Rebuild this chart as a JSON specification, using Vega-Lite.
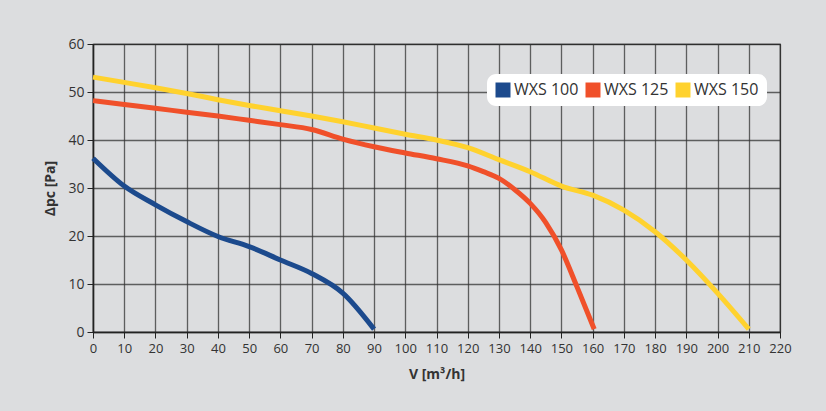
{
  "$schema": "https://vega.github.io/schema/vega-lite/v6.json",
  "width": 687,
  "height": 288,
  "autosize": {"type": "none"},
  "padding": {"left": 93, "top": 44, "right": 46, "bottom": 79},
  "background": "#dcdddf",
  "config": {
    "font": "Open Sans",
    "view": {"stroke": "#222", "strokeWidth": 1.2, "fill": "#dcdddf"}
  },
  "data": {
    "values": [
      {"V": 0, "p": 36.2, "s": "WXS 100"},
      {"V": 10, "p": 30.4, "s": "WXS 100"},
      {"V": 20, "p": 26.5, "s": "WXS 100"},
      {"V": 30, "p": 23.0, "s": "WXS 100"},
      {"V": 40, "p": 19.9, "s": "WXS 100"},
      {"V": 50, "p": 17.8, "s": "WXS 100"},
      {"V": 60, "p": 15.0, "s": "WXS 100"},
      {"V": 70, "p": 12.2, "s": "WXS 100"},
      {"V": 80, "p": 8.1, "s": "WXS 100"},
      {"V": 90, "p": 0.6, "s": "WXS 100"},
      {"V": 0, "p": 48.2, "s": "WXS 125"},
      {"V": 10, "p": 47.4, "s": "WXS 125"},
      {"V": 20, "p": 46.6, "s": "WXS 125"},
      {"V": 30, "p": 45.8, "s": "WXS 125"},
      {"V": 40, "p": 45.0, "s": "WXS 125"},
      {"V": 50, "p": 44.1, "s": "WXS 125"},
      {"V": 60, "p": 43.2, "s": "WXS 125"},
      {"V": 70, "p": 42.2, "s": "WXS 125"},
      {"V": 80, "p": 40.2, "s": "WXS 125"},
      {"V": 90, "p": 38.6, "s": "WXS 125"},
      {"V": 100, "p": 37.3, "s": "WXS 125"},
      {"V": 110, "p": 36.1, "s": "WXS 125"},
      {"V": 120, "p": 34.6, "s": "WXS 125"},
      {"V": 125, "p": 33.4, "s": "WXS 125"},
      {"V": 130, "p": 32.0, "s": "WXS 125"},
      {"V": 135, "p": 29.7, "s": "WXS 125"},
      {"V": 140, "p": 26.8, "s": "WXS 125"},
      {"V": 145, "p": 22.8, "s": "WXS 125"},
      {"V": 150, "p": 17.1, "s": "WXS 125"},
      {"V": 155, "p": 9.4, "s": "WXS 125"},
      {"V": 160.5, "p": 0.6, "s": "WXS 125"},
      {"V": 0, "p": 53.1, "s": "WXS 150"},
      {"V": 10, "p": 52.0, "s": "WXS 150"},
      {"V": 20, "p": 50.9, "s": "WXS 150"},
      {"V": 30, "p": 49.7, "s": "WXS 150"},
      {"V": 40, "p": 48.4, "s": "WXS 150"},
      {"V": 50, "p": 47.2, "s": "WXS 150"},
      {"V": 60, "p": 46.1, "s": "WXS 150"},
      {"V": 70, "p": 45.0, "s": "WXS 150"},
      {"V": 80, "p": 43.8, "s": "WXS 150"},
      {"V": 90, "p": 42.5, "s": "WXS 150"},
      {"V": 100, "p": 41.2, "s": "WXS 150"},
      {"V": 110, "p": 40.0, "s": "WXS 150"},
      {"V": 120, "p": 38.4, "s": "WXS 150"},
      {"V": 130, "p": 35.9, "s": "WXS 150"},
      {"V": 140, "p": 33.4, "s": "WXS 150"},
      {"V": 150, "p": 30.4, "s": "WXS 150"},
      {"V": 160, "p": 28.5, "s": "WXS 150"},
      {"V": 170, "p": 25.4, "s": "WXS 150"},
      {"V": 180, "p": 20.9, "s": "WXS 150"},
      {"V": 190, "p": 15.0, "s": "WXS 150"},
      {"V": 200, "p": 8.1, "s": "WXS 150"},
      {"V": 210, "p": 0.6, "s": "WXS 150"}
    ]
  },
  "mark": {"type": "line", "strokeWidth": 5, "interpolate": "monotone", "strokeCap": "butt"},
  "encoding": {
    "x": {
      "field": "V", "type": "quantitative",
      "scale": {"domain": [0, 220], "nice": false, "zero": true},
      "axis": {
        "title": "V [m³/h]", "values": [0,10,20,30,40,50,60,70,80,90,100,110,120,130,140,150,160,170,180,190,200,210,220],
        "labelOverlap": false, "labelFlush": false,
        "titleFontSize": 14, "titleFontWeight": "bold", "titleColor": "#333", "titlePadding": 12,
        "labelFontSize": 13, "labelColor": "#333", "labelPadding": 4,
        "tickSize": 6, "tickColor": "#222", "domainColor": "#222", "domainWidth": 1.5,
        "gridColor": "#333", "gridOpacity": 0.75, "gridWidth": 1.3
      }
    },
    "y": {
      "field": "p", "type": "quantitative",
      "scale": {"domain": [0, 60], "nice": false},
      "axis": {
        "title": "Δpc [Pa]", "values": [0,10,20,30,40,50,60],
        "labelOverlap": false, "labelFlush": false,
        "titleFontSize": 14, "titleFontWeight": "bold", "titleColor": "#333", "titlePadding": 10,
        "labelFontSize": 14, "labelColor": "#333", "labelPadding": 3,
        "tickSize": 6, "tickColor": "#222", "domainColor": "#222", "domainWidth": 1.5,
        "gridColor": "#333", "gridOpacity": 0.75, "gridWidth": 1.3
      }
    },
    "color": {
      "field": "s", "type": "nominal",
      "scale": {"domain": ["WXS 100", "WXS 125", "WXS 150"], "range": ["#1c4a8d", "#f0502a", "#ffd22e"]},
      "legend": {
        "title": null, "orient": "none", "legendX": 394, "legendY": 30, "direction": "horizontal",
        "fillColor": "white", "cornerRadius": 9, "padding": 8,
        "symbolType": "square", "symbolSize": 225, "symbolStrokeWidth": 0, "symbolOpacity": 1,
        "labelFontSize": 16, "labelColor": "#333", "labelOffset": 3, "columnPadding": 6,
        "encode": {"symbols": {"update": {"fill": {"scale": "color", "field": "value"}, "fillOpacity": {"value": 1}, "strokeWidth": {"value": 0}}}}
      }
    }
  }
}
